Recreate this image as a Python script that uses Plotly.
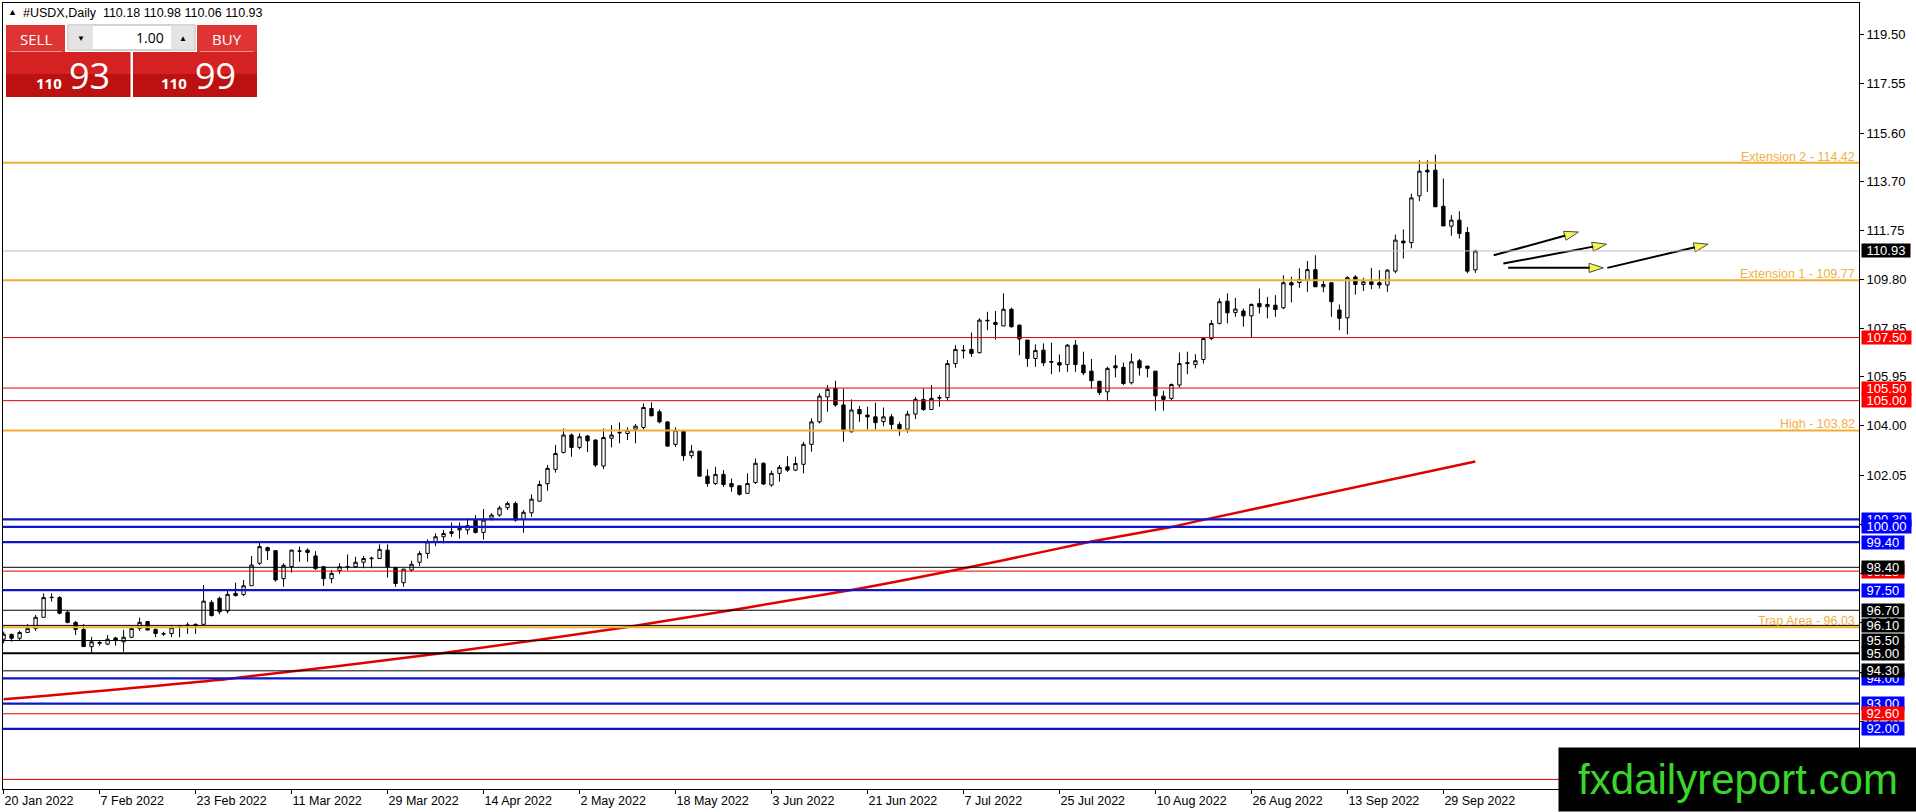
import pandas as pd
import plotly.graph_objects as go

# #USDX daily candles, 20 Jan 2022 .. 5 Oct 2022 (one bar per weekday)
dates = pd.bdate_range("2022-01-20", "2022-10-05")

opens = [95.55, 95.74, 95.59, 95.82, 95.98, 96.42, 97.20, 97.20, 96.62, 96.22,
         95.94, 95.26, 95.39, 95.36, 95.60, 95.45, 95.63, 95.98, 96.25, 95.94,
         95.76, 95.78, 96.04, 96.10, 96.09, 96.14, 97.01, 97.17, 96.67, 97.37,
         97.32, 97.67, 98.56, 99.18, 99.06, 97.95, 98.43, 99.05, 99.08, 98.85,
         98.42, 97.95, 98.27, 98.42, 98.42, 98.60, 98.74, 98.75, 99.08, 98.38,
         97.79, 98.29, 98.60, 98.95, 99.41, 99.61, 99.74, 99.88, 99.88, 100.27,
         99.78, 100.34, 100.47, 100.76, 100.93, 100.30, 100.56, 101.02, 101.71, 102.28,
         102.95, 103.64, 103.15, 103.60, 103.44, 102.41, 103.51, 103.72, 103.70, 103.87,
         103.94, 104.69, 104.56, 104.16, 103.27, 103.81, 102.82, 103.00, 102.01, 101.72,
         102.08, 101.72, 101.63, 101.33, 101.76, 102.52, 101.66, 102.12, 102.38, 102.25,
         102.48, 103.27, 104.16, 105.15, 105.48, 104.83, 103.77, 104.65, 104.43, 104.36,
         104.17, 104.36, 104.06, 103.87, 104.47, 105.05, 104.65, 105.10, 105.12, 106.47,
         107.00, 107.03, 106.90, 108.16, 108.10, 107.96, 108.62, 107.99, 107.40, 106.67,
         107.00, 106.55, 106.51, 106.43, 107.20, 106.41, 106.17, 105.77, 105.35, 106.38,
         106.32, 105.71, 106.58, 106.37, 106.17, 105.18, 105.09, 105.62, 106.47, 106.43,
         106.63, 107.46, 108.06, 108.94, 108.49, 108.55, 108.36, 108.85, 108.72, 108.78,
         108.68, 109.67, 109.68, 109.77, 110.19, 109.51, 109.67, 108.59, 108.28, 109.90,
         109.60, 109.71, 109.67, 109.58, 110.13, 111.32, 111.26, 113.11, 114.13, 114.13,
         112.70, 111.91, 112.15, 111.66, 110.18]
highs = [95.85, 95.78, 95.89, 96.15, 96.51, 97.37, 97.37, 97.26, 96.67, 96.27,
         96.15, 95.65, 95.49, 95.72, 95.65, 95.92, 96.01, 96.41, 96.27, 95.98,
         95.85, 96.12, 96.12, 96.22, 96.18, 97.70, 97.10, 97.24, 97.47, 97.79,
         97.90, 98.85, 99.41, 99.22, 99.08, 98.56, 99.10, 99.22, 99.15, 99.04,
         98.46, 98.29, 98.56, 98.91, 98.82, 98.85, 98.82, 99.31, 99.31, 98.42,
         98.33, 98.66, 99.04, 99.51, 99.74, 99.88, 100.17, 100.17, 100.34, 100.47,
         100.71, 100.54, 100.83, 101.00, 101.00, 100.67, 101.29, 101.83, 102.45, 103.24,
         103.90, 103.70, 103.70, 103.64, 103.47, 103.90, 104.03, 104.14, 103.94, 104.07,
         104.89, 104.93, 104.65, 104.19, 103.94, 103.84, 103.24, 103.00, 102.28, 102.38,
         102.25, 101.92, 101.63, 102.12, 102.71, 102.56, 102.23, 102.45, 102.80, 102.78,
         103.37, 104.30, 105.29, 105.62, 105.79, 105.48, 105.05, 104.79, 104.76, 104.92,
         104.73, 104.47, 104.16, 104.60, 105.15, 105.48, 105.62, 105.22, 106.61, 107.20,
         107.20, 107.70, 108.26, 108.52, 108.55, 109.25, 108.68, 108.02, 107.40, 107.23,
         107.27, 107.30, 106.83, 107.24, 107.40, 106.94, 106.65, 105.77, 106.34, 106.80,
         106.51, 106.87, 106.65, 106.37, 106.17, 105.39, 105.68, 106.91, 106.94, 106.84,
         107.50, 108.19, 109.05, 109.25, 109.07, 108.65, 108.85, 109.44, 109.11, 109.18,
         109.97, 109.91, 110.24, 110.53, 110.76, 109.77, 109.67, 108.81, 109.93, 109.97,
         109.87, 110.26, 110.17, 110.21, 111.58, 111.78, 113.20, 114.52, 114.52, 114.75,
         113.80, 112.35, 112.50, 111.88, 110.98]
lows = [95.39, 95.46, 95.52, 95.81, 95.88, 96.42, 97.04, 96.54, 96.18, 95.72,
        95.26, 95.02, 95.30, 95.32, 95.30, 95.06, 95.59, 95.88, 95.89, 95.63,
        95.68, 95.63, 95.63, 95.76, 95.76, 96.14, 96.45, 96.54, 96.58, 97.24,
        97.26, 97.67, 98.49, 98.69, 97.83, 97.63, 98.19, 98.62, 98.62, 98.29,
        97.66, 97.77, 98.14, 98.29, 98.38, 98.36, 98.36, 98.75, 97.99, 97.63,
        97.63, 98.23, 98.45, 98.75, 99.24, 99.35, 99.61, 99.54, 99.70, 99.74,
        99.50, 100.25, 100.40, 100.67, 100.21, 99.77, 100.40, 101.00, 101.43, 102.15,
        102.91, 102.78, 103.07, 102.97, 102.38, 102.29, 103.15, 103.31, 103.44, 103.31,
        103.86, 104.39, 104.10, 103.17, 103.17, 102.62, 102.71, 101.99, 101.59, 101.66,
        101.59, 101.39, 101.24, 101.30, 101.70, 101.66, 101.59, 101.79, 102.18, 102.21,
        102.12, 102.98, 104.10, 104.56, 104.76, 103.37, 103.73, 104.16, 103.86, 103.86,
        103.99, 103.86, 103.61, 103.73, 104.27, 104.60, 104.63, 104.76, 104.98, 106.30,
        106.67, 106.74, 106.87, 107.79, 107.42, 107.96, 107.89, 106.80, 106.34, 106.34,
        106.37, 106.05, 106.14, 106.14, 106.14, 106.01, 105.48, 105.22, 104.98, 105.92,
        105.62, 105.64, 105.99, 105.92, 104.60, 104.60, 105.02, 105.51, 106.05, 106.28,
        106.47, 107.40, 108.02, 108.06, 108.32, 107.93, 107.49, 108.45, 108.26, 108.32,
        108.62, 108.89, 109.47, 109.31, 109.51, 109.29, 108.32, 107.79, 107.62, 109.20,
        109.34, 109.42, 109.44, 109.31, 110.04, 110.63, 111.03, 112.90, 113.27, 112.68,
        111.92, 111.53, 111.42, 110.04, 110.06]
closes = [95.75, 95.59, 95.82, 95.98, 96.42, 97.20, 97.21, 96.58, 96.22, 95.94,
          95.26, 95.45, 95.42, 95.55, 95.50, 95.63, 95.98, 96.22, 95.92, 95.78,
          95.77, 96.01, 96.05, 96.11, 96.14, 97.06, 96.49, 96.64, 97.33, 97.28,
          97.67, 98.49, 99.22, 99.06, 97.90, 98.48, 99.08, 99.04, 98.99, 98.35,
          97.95, 98.16, 98.42, 98.43, 98.60, 98.75, 98.76, 99.11, 98.42, 97.76,
          98.33, 98.52, 98.95, 99.41, 99.61, 99.74, 99.81, 99.94, 100.05, 99.78,
          100.27, 100.47, 100.75, 100.93, 100.27, 100.58, 101.10, 101.68, 102.32, 102.91,
          103.64, 103.15, 103.57, 103.41, 102.45, 103.54, 103.64, 103.74, 103.83, 103.99,
          104.73, 104.40, 104.16, 103.20, 103.83, 102.82, 103.00, 102.01, 101.72, 102.08,
          101.68, 101.59, 101.29, 101.72, 102.52, 101.70, 102.12, 102.36, 102.25, 102.51,
          103.27, 104.16, 105.18, 105.45, 104.83, 103.81, 104.63, 104.48, 104.36, 104.13,
          104.36, 104.06, 103.89, 104.47, 105.05, 104.65, 105.09, 105.12, 106.47, 107.03,
          106.98, 106.87, 108.19, 108.18, 108.02, 108.62, 107.93, 107.44, 106.67, 106.99,
          106.50, 106.53, 106.41, 107.20, 106.43, 106.10, 105.79, 105.32, 106.28, 106.30,
          105.68, 106.54, 106.30, 106.28, 105.19, 105.05, 105.64, 106.47, 106.50, 106.58,
          107.46, 108.06, 108.92, 108.48, 108.63, 108.36, 108.81, 108.72, 108.81, 108.61,
          109.67, 109.58, 109.80, 110.19, 109.51, 109.60, 108.92, 108.26, 109.87, 109.60,
          109.71, 109.60, 109.58, 110.17, 111.36, 111.25, 113.03, 114.09, 114.06, 112.68,
          111.92, 112.15, 111.62, 110.13, 110.93]
ask_price = 110.99

# red moving average at a few bars
ma_bar = [0, 28, 55, 78, 106, 125, 136, 146, 150, 184]
ma_val = [93.17, 93.98, 95.01, 96.04, 97.50, 98.68, 99.42, 100.00, 100.28, 102.59]

# horizontal levels, in drawing order (later labels sit on top)
level_price = [114.42, 110.93, 109.77, 107.50, 105.50, 105.00, 103.82, 100.30, 100.00, 99.40,
               98.25, 98.40, 97.50, 96.70, 96.10, 96.03, 95.50, 95.00, 94.00, 94.30,
               93.00, 92.60, 92.00, 90.00]
level_kind = ["gold", "price", "gold", "red", "red", "red", "gold", "blue", "blue", "blue",
              "red", "black", "blue", "black", "black", "gold", "black", "black_bold", "blue", "black",
              "blue", "red", "blue", "red"]
level_name = {114.42: "Extension 2", 109.77: "Extension 1", 103.82: "High", 96.03: "Trap Area"}

price_ticks = [119.50, 117.55, 115.60, 113.70, 111.75, 109.80, 107.85, 105.95, 104.00, 102.05,
               100.10, 98.15, 96.20, 94.25, 92.30, 90.35]
date_ticks = ["2022-01-20", "2022-02-07", "2022-02-23", "2022-03-11", "2022-03-29", "2022-04-14",
              "2022-05-02", "2022-05-18", "2022-06-03", "2022-06-21", "2022-07-07", "2022-07-25",
              "2022-08-10", "2022-08-26", "2022-09-13", "2022-09-29"]

# hand drawn arrows (bar number, price)
arrow_x0 = [186.3, 187.5, 188.1, 200.5]
arrow_y0 = [110.76, 110.43, 110.26, 110.26]
arrow_x1 = [196.9, 200.4, 200.0, 213.1]
arrow_y1 = [111.68, 111.20, 110.26, 111.20]

LINE_STYLE = {
    "gold": dict(color="#f2ad33", width=2),
    "price": dict(color="#c0c0c0", width=1),
    "red": dict(color="#e00000", width=1),
    "blue": dict(color="#0c16c8", width=2.3),
    "black": dict(color="black", width=1),
    "black_bold": dict(color="black", width=2),
}
BOX_BG = {"price": "black", "red": "#ff0000", "blue": "#0000ff",
          "black": "black", "black_bold": "black"}
FONT = "Liberation Sans, Arial, sans-serif"
UI_FONT = "Open Sans, Noto Sans, sans-serif"

W, H = 1916, 812
L, R, T, B = 3, 1859, 3, 789


def px(x):
    return (x - L) / (R - L)


def py(y):
    return (B - y) / (B - T)


bars = list(range(len(dates)))

fig = go.Figure()
fig.add_trace(go.Candlestick(
    x=bars, open=opens, high=highs, low=lows, close=closes,
    increasing=dict(line=dict(color="black", width=1), fillcolor="white"),
    decreasing=dict(line=dict(color="black", width=1), fillcolor="black"),
    whiskerwidth=0, hoverinfo="skip",
))
fig.add_trace(go.Scatter(
    x=ma_bar, y=ma_val, mode="lines", hoverinfo="skip",
    line=dict(color="#e00000", width=2.5, shape="spline", smoothing=0.6),
))
for i in range(len(arrow_x0)):
    fig.add_trace(go.Scatter(
        x=[arrow_x0[i], arrow_x1[i]], y=[arrow_y0[i], arrow_y1[i]],
        mode="lines+markers", hoverinfo="skip",
        line=dict(color="black", width=2),
        marker=dict(symbol="arrow", size=[0, 15], color="#f2f200",
                    angleref="previous", line=dict(color="black", width=1)),
    ))

shapes = []
annotations = []
for price, kind in zip(level_price, level_kind):
    shapes.append(dict(type="line", xref="paper", x0=0, x1=1, yref="y", y0=price, y1=price,
                       line=LINE_STYLE[kind], layer="above"))
    if kind == "gold":
        annotations.append(dict(
            xref="paper", x=1, xanchor="right", xshift=-2, yref="y", y=price,
            yanchor="middle", yshift=6, showarrow=False,
            text=f"{level_name[price]} - {price:.2f}",
            font=dict(family=FONT, size=12.5, color="#efb13f")))
    else:
        annotations.append(dict(
            xref="paper", x=1, xanchor="left", xshift=2, yref="y", y=price,
            yanchor="middle", showarrow=False, height=10.5, borderpad=1,
            bgcolor=BOX_BG[kind], text=f"\u00a0{price:.2f}\u00a0",
            font=dict(family=FONT, size=13, color="white")))

# title line
annotations.append(dict(xref="paper", yref="paper", x=px(6), y=py(12.5), xanchor="left",
                        yanchor="middle", showarrow=False, text="\u25b2",
                        font=dict(family=FONT, size=9, color="black")))
annotations.append(dict(
    xref="paper", yref="paper", x=px(21), y=py(12.8), xanchor="left", yanchor="middle",
    showarrow=False,
    text=f"#USDX,Daily  {opens[-1]:.2f} {highs[-1]:.2f} {lows[-1]:.2f} {closes[-1]:.2f}",
    font=dict(family=FONT, size=12.5, color="black")))


def rect(x0, y0, x1, y1, fill, edge=None):
    shapes.append(dict(type="rect", xref="paper", yref="paper", x0=px(x0), x1=px(x1),
                       y0=py(y1), y1=py(y0), fillcolor=fill, layer="above",
                       line=dict(color=edge or fill, width=1 if edge else 0)))


# one-click trading panel
rect(6, 25, 65, 52, "#df3434")
rect(197, 25, 257, 52, "#df3434")
rect(6, 52, 130.5, 74, "#d42222")
rect(6, 74, 130.5, 97, "#bd1010")
rect(133, 52, 257, 74, "#d42222")
rect(133, 74, 257, 97, "#bd1010")
rect(68, 25, 195, 50, "#ffffff", "#a8a8a8")
rect(68.5, 25.5, 93, 49.5, "#e4e4e4")
rect(171, 25.5, 194.5, 49.5, "#e4e4e4")
shapes.append(dict(type="line", xref="paper", yref="paper", x0=px(10), x1=px(62),
                   y0=py(51.5), y1=py(51.5), line=dict(color="#f09090", width=1), layer="above"))
shapes.append(dict(type="line", xref="paper", yref="paper", x0=px(200), x1=px(253),
                   y0=py(51.5), y1=py(51.5), line=dict(color="#f09090", width=1), layer="above"))

bid_big, bid_small = f"{closes[-1]:.2f}".split(".")
ask_big, ask_small = f"{ask_price:.2f}".split(".")
panel_text = [
    ("SELL", 35.5, 39, "center", 15, "white", False),
    ("BUY", 227, 39, "center", 15, "white", False),
    ("\u25bc", 80.5, 38, "center", 8, "black", False),
    ("\u25b2", 183, 37, "center", 8, "black", False),
    ("1.00", 166, 37.5, "right", 14, "black", False),
    (bid_big, 64, 83, "right", 15, "white", True),
    (bid_small, 67, 75, "left", 36, "white", False),
    (ask_big, 189, 83, "right", 15, "white", True),
    (ask_small, 193, 75, "left", 36, "white", False),
]
for txt, x, y, anchor, size, color, bold in panel_text:
    annotations.append(dict(xref="paper", yref="paper", x=px(x), y=py(y), xanchor=anchor,
                            yanchor="middle", showarrow=False,
                            text=f"<b>{txt}</b>" if bold else txt,
                            font=dict(family=UI_FONT, size=size, color=color)))

# watermark
annotations.append(dict(xref="paper", yref="paper", x=px(1558), y=py(812), xanchor="left",
                        yanchor="bottom", showarrow=False, width=358, height=63, borderpad=0,
                        bgcolor="black", text="fxdailyreport.com", align="center",
                        valign="middle",
                        font=dict(family=FONT, size=42, color="#3ad62c")))

tick_pos = [dates.get_loc(pd.Timestamp(d)) for d in date_ticks]
tick_txt = [pd.Timestamp(d).strftime("%-d %b %Y") for d in date_ticks]

fig.update_layout(
    width=W, height=H,
    margin=dict(l=L, r=W - R, t=T, b=H - B, pad=0, autoexpand=False),
    paper_bgcolor="white", plot_bgcolor="white", showlegend=False,
    boxgap=0.4, hovermode=False,
    shapes=shapes, annotations=annotations,
    xaxis=dict(range=[-0.075, 231.96], showgrid=False, zeroline=False,
               showline=True, linecolor="black", linewidth=1, mirror=True,
               ticks="outside", ticklen=4, tickcolor="black",
               tickvals=tick_pos, ticktext=tick_txt, ticklabelposition="outside right",
               tickfont=dict(family=FONT, size=12.5, color="black"),
               rangeslider=dict(visible=False), automargin=False),
    yaxis=dict(range=[89.62, 120.75], side="right", showgrid=False, zeroline=False,
               showline=True, linecolor="black", linewidth=1, mirror=True,
               ticks="outside", ticklen=4, tickcolor="black",
               tickvals=price_ticks, tickformat=".2f",
               tickfont=dict(family=FONT, size=13, color="black"), automargin=False),
)

# the page's default body margin would push the 1916x812 figure out of the window
fig.write_html("out.html", config={"displayModeBar": False},
               post_script="document.body.style.margin='0';"
                           "document.body.style.overflow='hidden';")
